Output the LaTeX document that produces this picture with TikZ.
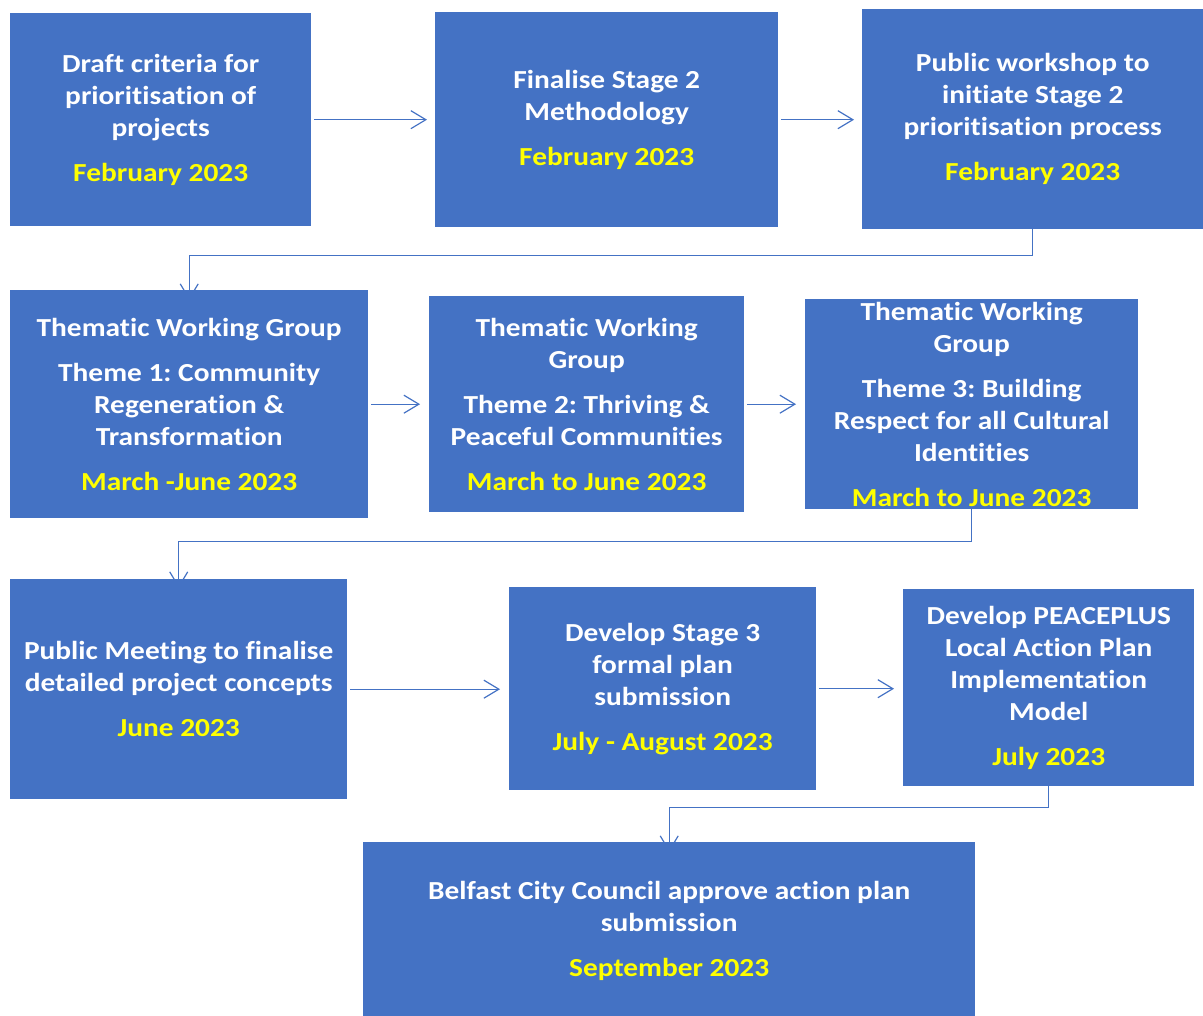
\documentclass[tikz,border=0pt]{standalone}
\usepackage{fontspec}
\setmainfont{Carlito}[FakeStretch=1.13, Ligatures=CommonOff]
\usetikzlibrary{arrows.meta}
\frenchspacing

\definecolor{boxblue}{HTML}{4472C4}
\definecolor{dateyellow}{HTML}{FFFF00}

\tikzset{
  stage/.style={fill=boxblue, draw=none, text=white, align=center,
    inner sep=0pt, anchor=north west,
    font=\fontsize{26}{32}\selectfont\bfseries},
  link/.style={draw=boxblue, line width=1.2pt,
    -{Straight Barb[length=15pt, width=18pt, line width=1.2pt]}}
}
\newcommand{\when}[1]{\\[13pt]\textcolor{dateyellow}{#1}}

\begin{document}
\begin{tikzpicture}[x=1pt, y=-1pt]
  \useasboundingbox (0,0) rectangle (1203,1016);

  % Row 1
  \node[stage, minimum width=301pt, minimum height=213pt] (criteria) at (10,13)
    {Draft criteria for\\prioritisation of\\projects\when{February 2023}};
  \node[stage, minimum width=343pt, minimum height=215pt] (method) at (435,12)
    {Finalise Stage 2\\Methodology\when{February 2023}};
  \node[stage, minimum width=341pt, minimum height=220pt] (workshop) at (862,9)
    {Public workshop to\\initiate Stage 2\\prioritisation process\when{February 2023}};

  % Row 2
  \node[stage, minimum width=358pt, minimum height=228pt] (themeone) at (10,290)
    {Thematic Working Group\\[13pt]Theme 1: Community\\Regeneration \&\\Transformation\when{March -June 2023}};
  \node[stage, minimum width=315pt, minimum height=216pt] (themetwo) at (429,296)
    {Thematic Working\\Group\\[13pt]Theme 2: Thriving \&\\Peaceful Communities\when{March to June 2023}};
  \node[stage, minimum width=333pt, minimum height=210pt] (themethree) at (805,299)
    {Thematic Working\\Group\\[13pt]Theme 3: Building\\Respect for all Cultural\\Identities\when{March to June 2023}};

  % Row 3
  \node[stage, minimum width=337pt, minimum height=220pt] (meeting) at (10,579)
    {Public Meeting to finalise\\detailed project concepts\when{June 2023}};
  \node[stage, minimum width=307pt, minimum height=203pt] (formal) at (509,587)
    {Develop Stage 3\\formal plan\\submission\when{July - August 2023}};
  \node[stage, minimum width=291pt, minimum height=197pt] (model) at (903,589)
    {Develop PEACEPLUS\\Local Action Plan\\Implementation\\Model\when{July 2023}};

  % Row 4
  \node[stage, minimum width=612pt, minimum height=178pt] (approve) at (363,842)
    {Belfast City Council approve action plan\\submission\when{September 2023}};

  % Arrows along the rows
  \draw[link] ([xshift=3pt]criteria.east) -- ([xshift=-8pt]method.west |- criteria.east);
  \draw[link] ([xshift=3pt]method.east) -- ([xshift=-8pt]workshop.west |- method.east);
  \draw[link] ([xshift=3pt]themeone.east) -- ([xshift=-9pt]themetwo.west |- themeone.east);
  \draw[link] ([xshift=3pt]themetwo.east) -- ([xshift=-9pt]themethree.west |- themetwo.east);
  \draw[link] ([xshift=3pt]meeting.east) -- ([xshift=-9pt]formal.west |- meeting.east);
  \draw[link] ([xshift=3pt]formal.east) -- ([xshift=-9pt]model.west |- formal.east);

  % Elbows down to the next row
  \draw[link] ([yshift=2pt]workshop.south) -- ++(0,28) -| ([yshift=-10pt]themeone.north);
  \draw[link] ([yshift=2pt]themethree.south) -- ++(0,34) -| ([yshift=-9pt]meeting.north);
  \draw[link] ([yshift=4pt]model.south) -- ++(0,25) -| ([yshift=-10pt]approve.north);
\end{tikzpicture}
\end{document}
